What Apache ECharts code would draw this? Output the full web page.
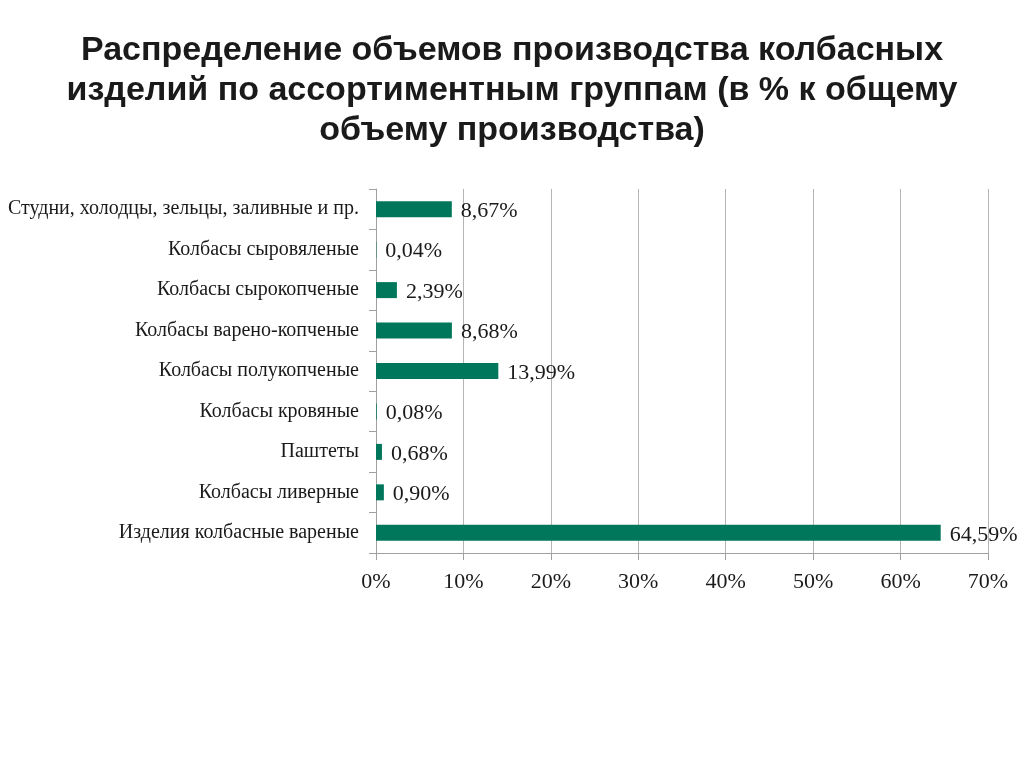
<!DOCTYPE html>
<html>
<head>
<meta charset="utf-8">
<script src="https://cdn.jsdelivr.net/npm/echarts@6/dist/echarts.min.js"></script>
<style>html,body{margin:0;padding:0;background:#fff}#c{width:1024px;height:768px}</style>
</head>
<body>
<div id="c"></div>
<script>
const categories = [
  "Изделия колбасные вареные",
  "Колбасы ливерные",
  "Паштеты",
  "Колбасы кровяные",
  "Колбасы полукопченые",
  "Колбасы варено-копченые",
  "Колбасы сырокопченые",
  "Колбасы сыровяленые",
  "Студни, холодцы, зельцы, заливные и пр."
];
const values = [64.59, 0.90, 0.68, 0.08, 13.99, 8.68, 2.39, 0.04, 8.67];
const xTicks = [0, 10, 20, 30, 40, 50, 60, 70];
const titleText = "Распределение объемов производства колбасных\nизделий по ассортиментным группам (в % к общему\nобъему производства)";

const chart = echarts.init(document.getElementById('c'));
chart.setOption({
  animation: false,
  title: {
    text: titleText,
    left: 'center',
    top: 26,
    textStyle: {
      fontFamily: 'Liberation Sans',
      fontWeight: 'bold',
      fontSize: 34,
      lineHeight: 40,
      color: '#1a1a1a'
    }
  },
  grid: { left: 376, right: 36, top: 189, bottom: 215 },
  xAxis: {
    type: 'value',
    min: xTicks[0],
    max: xTicks[xTicks.length - 1],
    interval: 10,
    axisLine: { show: true, lineStyle: { color: '#a0a0a0' } },
    axisTick: { show: true, length: 7, lineStyle: { color: '#a0a0a0' } },
    splitLine: { show: true, lineStyle: { color: '#b5b5b5' } },
    axisLabel: {
      formatter: v => v + '%',
      fontFamily: 'Liberation Serif',
      fontSize: 22,
      color: '#1a1a1a',
      margin: 18
    }
  },
  yAxis: {
    type: 'category',
    data: categories,
    axisLine: { show: true, lineStyle: { color: '#a0a0a0' } },
    axisTick: { show: true, length: 7, lineStyle: { color: '#a0a0a0' } },
    axisLabel: {
      fontFamily: 'Liberation Serif',
      fontSize: 20,
      color: '#1a1a1a',
      margin: 17,
      padding: [4, 0, 0, 0]
    }
  },
  series: [{
    type: 'bar',
    data: values,
    barWidth: 16,
    itemStyle: { color: '#00775a' },
    label: {
      show: true,
      position: 'right',
      distance: 9,
      offset: [0, 2],
      formatter: p => p.value.toFixed(2).replace('.', ',') + '%',
      fontFamily: 'Liberation Serif',
      fontSize: 22,
      color: '#1a1a1a'
    }
  }]
});
</script>
</body>
</html>
